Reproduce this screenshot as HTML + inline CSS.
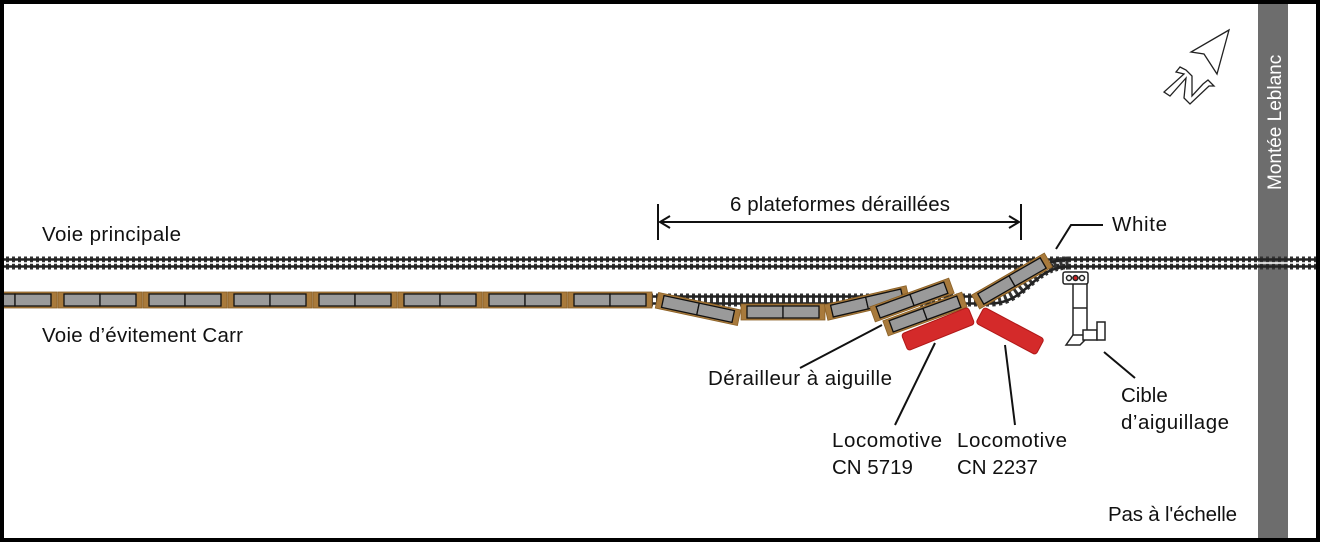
<!DOCTYPE html>
<html><head><meta charset="utf-8"><style>
html,body{margin:0;padding:0;background:#fff}
svg{display:block}
text{font-family:"Liberation Sans",sans-serif;font-size:20.5px;fill:#111}
</style></head><body>
<svg width="1320" height="542" viewBox="0 0 1320 542">
<defs>
<g id="car">
<rect x="-42" y="-8" width="84" height="16" fill="#a87a3c" stroke="#8a6026" stroke-width="0.8"/>
<rect x="-36" y="-6" width="36" height="12" fill="#9a9a9a" stroke="#111" stroke-width="1.3"/>
<rect x="0" y="-6" width="36" height="12" fill="#9a9a9a" stroke="#111" stroke-width="1.3"/>
</g>
</defs>
<rect x="0" y="0" width="1320" height="542" fill="#fff"/>
<rect x="1258" y="0" width="30" height="542" fill="#6d6d6d"/>
<text transform="translate(1281,190) rotate(-90)" style="fill:#fff;font-size:19px">Montée Leblanc</text>
<!-- main track -->
<line x1="0" y1="263" x2="1320" y2="263" stroke="#333" stroke-width="13" stroke-dasharray="3 3"/>
<line x1="0" y1="259.5" x2="1320" y2="259.5" stroke="#222" stroke-width="2.5"/>
<line x1="0" y1="266.5" x2="1320" y2="266.5" stroke="#222" stroke-width="2.5"/>
<line x1="0" y1="263" x2="1320" y2="263" stroke="#fff" stroke-width="1.5"/>
<!-- siding track -->
<path d="M650 300 L990 300 C1025 300 1030 263 1070 263" fill="none" stroke="#333" stroke-width="13" stroke-dasharray="3 3"/>
<path d="M650 296.5 L990 296.5 C1022 296.5 1028 259.5 1070 259.5" fill="none" stroke="#222" stroke-width="2.5"/>
<path d="M650 303.5 L990 303.5 C1028 303.5 1032 266.5 1070 266.5" fill="none" stroke="#222" stroke-width="2.5"/>
<use href="#car" transform="translate(15,300)"/>
<use href="#car" transform="translate(100,300)"/>
<use href="#car" transform="translate(185,300)"/>
<use href="#car" transform="translate(270,300)"/>
<use href="#car" transform="translate(355,300)"/>
<use href="#car" transform="translate(440,300)"/>
<use href="#car" transform="translate(525,300)"/>
<use href="#car" transform="translate(610,300)"/>
<use href="#car" transform="translate(698,309) rotate(12)"/>
<use href="#car" transform="translate(783,312)"/>
<use href="#car" transform="translate(867,303) rotate(-13)"/>
<use href="#car" transform="translate(912,300) rotate(-20)"/>
<use href="#car" transform="translate(925,314) rotate(-20)"/>
<use href="#car" transform="translate(1012,281) rotate(-30)"/>
<rect x="-36" y="-9" width="72" height="18" rx="3" fill="#d42a2a" stroke="#b01818" transform="translate(938,329) rotate(-22)"/>
<rect x="-34" y="-9" width="68" height="18" rx="3" fill="#d42a2a" stroke="#b01818" transform="translate(1010,331) rotate(28)"/>
<g fill="#fff" stroke="#222" stroke-width="1.5">
<rect x="1063" y="272" width="25" height="12" rx="2"/>
<circle cx="1069" cy="278" r="2.5"/><circle cx="1075.5" cy="278" r="2.5" fill="#c22"/><circle cx="1082" cy="278" r="2.5"/>
<line x1="1073" y1="284" x2="1073" y2="335"/><line x1="1087" y1="284" x2="1087" y2="335"/>
<line x1="1073" y1="308" x2="1087" y2="308"/>
<path d="M1066 345 L1073 335 L1085 335 L1085 340 L1080 345 Z"/>
<rect x="1083" y="330" width="14" height="10"/>
<rect x="1097" y="322" width="8" height="18"/>
</g>
<g stroke="#111" stroke-width="2" fill="none">
<line x1="658" y1="204" x2="658" y2="240"/>
<line x1="1021" y1="204" x2="1021" y2="240"/>
<line x1="660" y1="222" x2="1019" y2="222"/>
<path d="M670 216 L660 222 L670 228"/><path d="M1009 216 L1019 222 L1009 228"/>
<polyline points="1056,249 1071,225 1103,225"/>
<line x1="800" y1="368" x2="882" y2="325"/>
<line x1="895" y1="425" x2="935" y2="343"/>
<line x1="1015" y1="425" x2="1005" y2="345"/>
<line x1="1135" y1="378" x2="1104" y2="352"/>
</g>
<g fill="#fff" stroke="#222" stroke-width="1.3">
<path d="M1229 30 L1191 52 L1204 54 L1217 74 Z"/>
<path d="M1180 67 L1176 72 L1184 74 L1164 92 L1170 96 L1186 78 L1184 98 L1190 104 L1209 86 L1214 86 L1208 80 L1203 84 L1192 96 L1192 76 L1186 70 Z"/>
</g>
<text x="730" y="211" textLength="220">6 plateformes déraillées</text>
<text x="42" y="241" textLength="139">Voie principale</text>
<text x="42" y="342" textLength="201">Voie d’évitement Carr</text>
<text x="1112" y="231" textLength="55">White</text>
<text x="708" y="385" textLength="184">Dérailleur à aiguille</text>
<text x="832" y="447" textLength="110">Locomotive</text>
<text x="832" y="474">CN 5719</text>
<text x="957" y="447" textLength="110">Locomotive</text>
<text x="957" y="474">CN 2237</text>
<text x="1121" y="402">Cible</text>
<text x="1121" y="429" textLength="108">d’aiguillage</text>
<text x="1108" y="521" textLength="129">Pas à l'échelle</text>
<rect x="2" y="2" width="1316" height="538" fill="none" stroke="#000" stroke-width="4"/>
</svg>
</body></html>
